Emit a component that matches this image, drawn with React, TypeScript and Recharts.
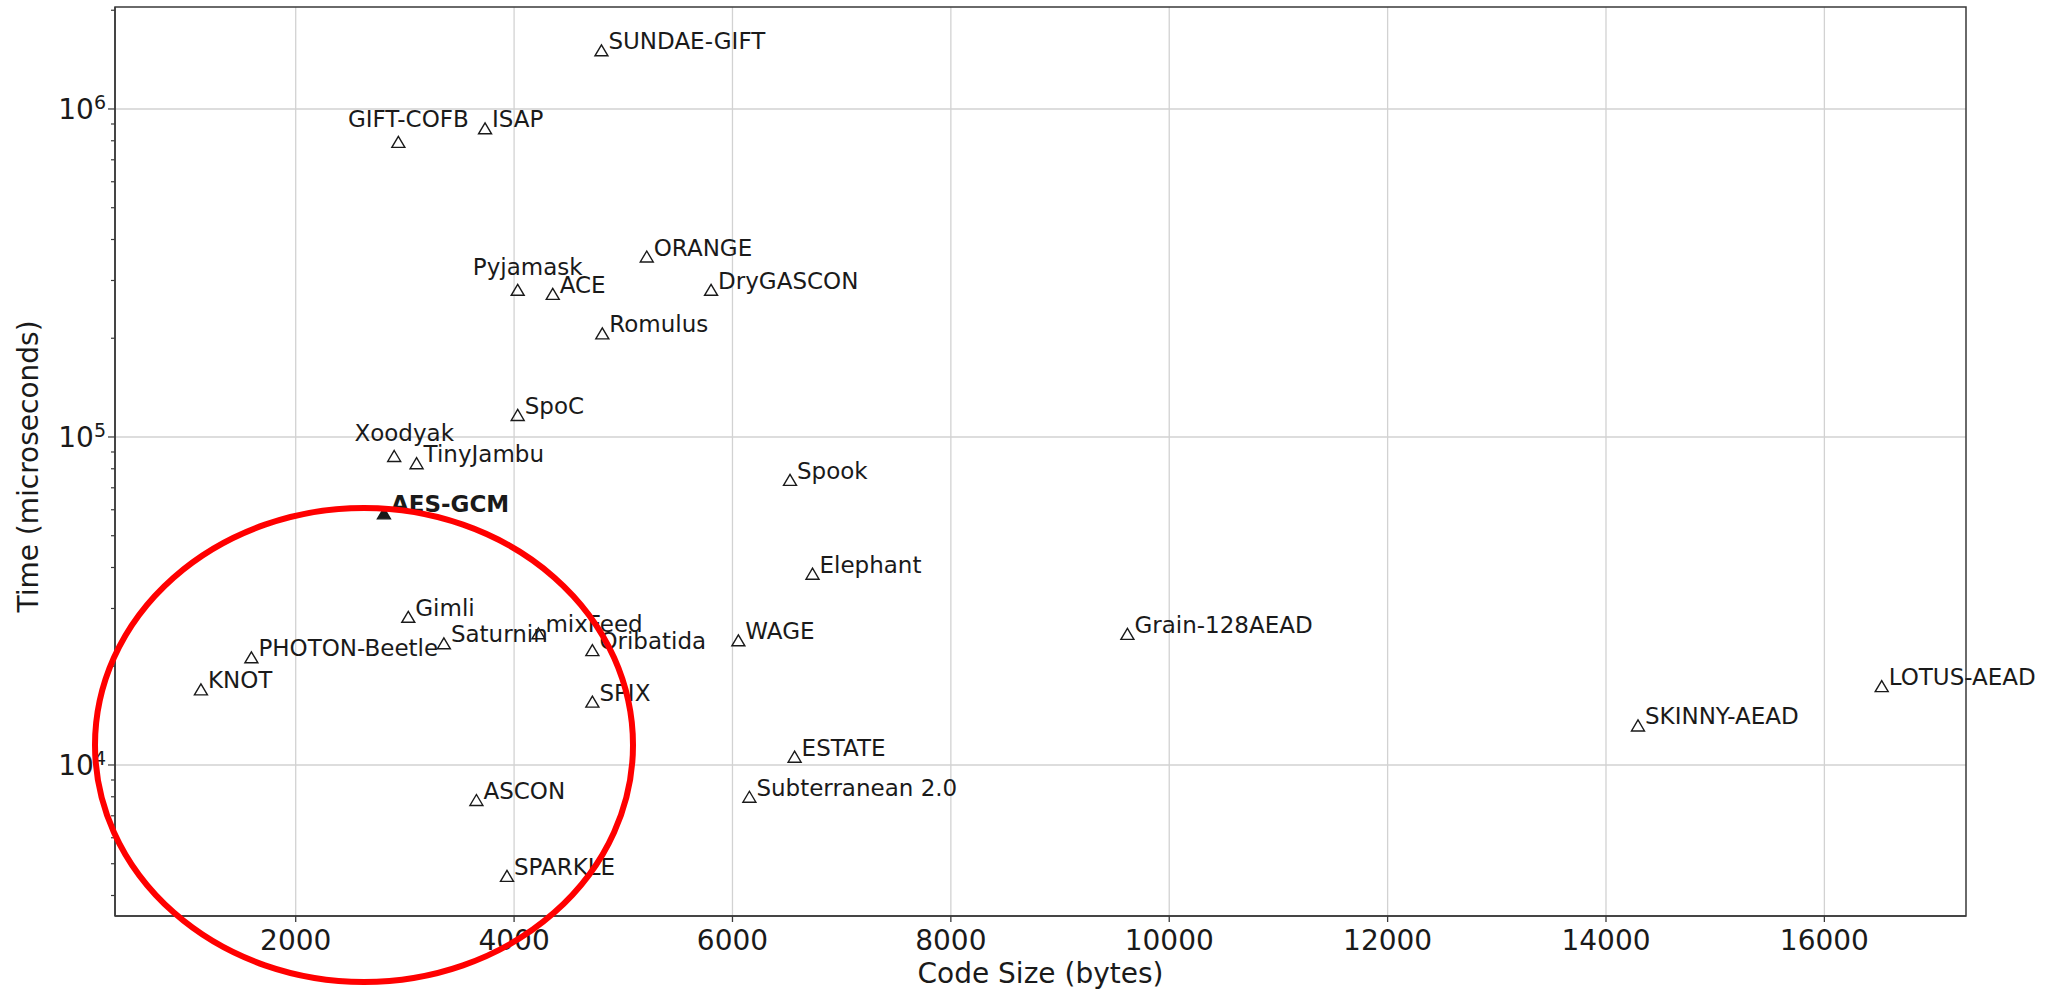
import { CartesianGrid, ReferenceArea, Scatter, ScatterChart, XAxis, YAxis } from "recharts"

const SCHEMES = [
  "SUNDAE-GIFT", "GIFT-COFB", "ISAP", "Pyjamask", "ACE", "ORANGE", "DryGASCON", "Romulus",
  "SpoC", "Xoodyak", "TinyJambu", "AES-GCM", "Spook", "Elephant", "Gimli", "mixFeed",
  "PHOTON-Beetle", "Saturnin", "Oribatida", "WAGE", "KNOT", "SPIX", "Grain-128AEAD",
  "LOTUS-AEAD", "SKINNY-AEAD", "ESTATE", "Subterranean 2.0", "ASCON", "SPARKLE",
]
const CODE_SIZE = [
  4800, 2940, 3734, 4033, 4354, 5215, 5804, 4808,
  4033, 2902, 3107, 2808, 6527, 6733, 3031, 4223,
  1594, 3357, 4717, 6054, 1132, 4717, 9617,
  16525, 14293, 6569, 6155, 3655, 3935,
]
const TIME_US = [
  1510000, 794000, 873000, 281000, 273000, 355000, 281000, 207000,
  116700, 87500, 83200, 58500, 74000, 38300, 28300, 25200,
  21300, 23500, 22400, 24000, 17000, 15600, 25100,
  17400, 13200, 10600, 8000, 7820, 4590,
]
// labels that sit centred above their marker instead of to the right
const ABOVE_LABELS = ["GIFT-COFB", "Xoodyak", "Pyjamask"]
const BASELINE = "AES-GCM"

const X_DOMAIN = [345, 17297]
const X_TICKS = [2000, 4000, 6000, 8000, 10000, 12000, 14000, 16000]
const Y_DOMAIN = [3464, 2046000]
const Y_MAJOR = [10000, 100000, 1000000]
const Y_TICKS = [
  4000, 5000, 6000, 7000, 8000, 9000, 10000,
  20000, 30000, 40000, 50000, 60000, 70000, 80000, 90000, 100000,
  200000, 300000, 400000, 500000, 600000, 700000, 800000, 900000, 1000000,
  2000000,
]

const rows = SCHEMES.map((name, i) => ({ name, size: CODE_SIZE[i], time: TIME_US[i] }))

const FONT = "'DejaVu Sans', sans-serif"
const INK = "#1a1a1a"
const SPINE = "#3a3a3a"

function Marker(props: any) {
  const { cx, cy, payload } = props
  const filled = payload.name === BASELINE
  const above = ABOVE_LABELS.includes(payload.name)
  const path = `M${cx},${cy - 5.5} L${cx + 6.5},${cy + 5.5} L${cx - 6.5},${cy + 5.5} Z`
  return (
    <g>
      <path d={path} fill={filled ? INK : "none"} stroke={INK} strokeWidth={1.4} />
      <text
        x={above ? cx + 10 : cx + 7}
        y={above ? cy - 15 : cy - 1}
        textAnchor={above ? "middle" : "start"}
        fontFamily={FONT}
        fontSize={23}
        fontWeight={filled ? "bold" : "normal"}
        fill={INK}
      >
        {payload.name}
      </text>
    </g>
  )
}

function XTick(props: any) {
  const { x, y, payload } = props
  return (
    <g>
      <line x1={x} x2={x} y1={y} y2={y + 6} stroke={SPINE} strokeWidth={1.3} />
      <text x={x} y={y + 34} textAnchor="middle" fontFamily={FONT} fontSize={28} fill={INK}>
        {payload.value}
      </text>
    </g>
  )
}

function YTick(props: any) {
  const { x, y, payload } = props
  const exp = Math.round(Math.log10(payload.value))
  const major = Y_MAJOR.includes(payload.value)
  return (
    <g>
      <line x1={x} x2={x - (major ? 7 : 4)} y1={y} y2={y} stroke={SPINE} strokeWidth={1.2} />
      {major && (
        <text x={x - 9} y={y + 10} textAnchor="end" fontFamily={FONT} fontSize={28} fill={INK}>
          10
          <tspan dy={-10} fontSize={19}>
            {exp}
          </tspan>
        </text>
      )}
    </g>
  )
}

export default function App() {
  return (
    <div style={{ position: "absolute", left: 0, top: 0, width: 2047, height: 991, background: "#fff" }}>
      <ScatterChart width={2047} height={991} margin={{ top: 7, right: 81, bottom: 15, left: 15 }}>
        <CartesianGrid
          stroke="#d2d2d2"
          strokeWidth={1.3}
          horizontalValues={Y_MAJOR}
          verticalValues={X_TICKS}
        />
        <XAxis
          type="number"
          dataKey="size"
          domain={X_DOMAIN}
          ticks={X_TICKS}
          interval={0}
          height={60}
          tickSize={0}
          tickMargin={0}
          tickLine={false}
          axisLine={{ stroke: SPINE, strokeWidth: 1.5 }}
          tick={<XTick />}
          label={{
            content: (p: any) => (
              <text
                x={p.viewBox.x + p.viewBox.width / 2}
                y={p.viewBox.y + 67}
                textAnchor="middle"
                fontFamily={FONT}
                fontSize={28}
                fill={INK}
              >
                Code Size (bytes)
              </text>
            ),
          }}
        />
        <YAxis
          type="number"
          dataKey="time"
          scale="log"
          domain={Y_DOMAIN}
          ticks={Y_TICKS}
          interval={0}
          width={100}
          tickSize={0}
          tickMargin={0}
          tickLine={false}
          axisLine={{ stroke: SPINE, strokeWidth: 1.5 }}
          tick={<YTick />}
          label={{
            content: (p: any) => {
              const cy = p.viewBox.y + p.viewBox.height / 2 + 5
              return (
                <text
                  x={38}
                  y={cy}
                  transform={`rotate(-90, 38, ${cy})`}
                  textAnchor="middle"
                  fontFamily={FONT}
                  fontSize={28}
                  fill={INK}
                >
                  Time (microseconds)
                </text>
              )
            },
          }}
        />
        <ReferenceArea
          x1={X_DOMAIN[0]}
          x2={X_DOMAIN[1]}
          y1={Y_DOMAIN[0]}
          y2={Y_DOMAIN[1]}
          fill="none"
          stroke={SPINE}
          strokeWidth={1.5}
          ifOverflow="visible"
        />
        <Scatter data={rows} shape={<Marker />} isAnimationActive={false} />
      </ScatterChart>
      {/* hand-drawn highlight around the small, fast schemes */}
      <svg
        width={2047}
        height={991}
        style={{ position: "absolute", left: 0, top: 0, pointerEvents: "none" }}
      >
        <ellipse cx={364} cy={745} rx={269} ry={237} fill="none" stroke="#ff0000" strokeWidth={6} />
      </svg>
    </div>
  )
}
